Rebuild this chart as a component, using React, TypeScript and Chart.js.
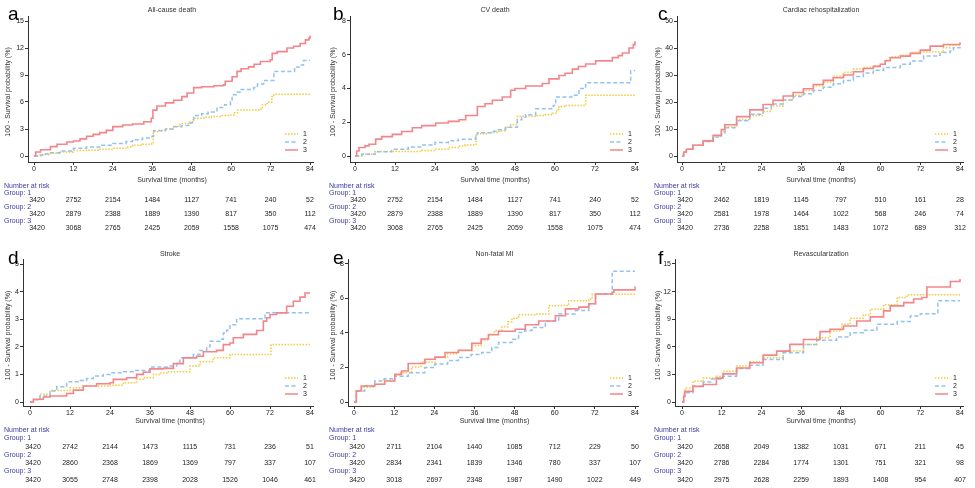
import React, { useEffect, useRef } from "react";
import { Chart, registerables } from "chart.js";
Chart.register(...registerables);

const FONT = '"Liberation Sans", Arial, sans-serif';
const months = [0, 12, 24, 36, 48, 60, 72, 84];
const groupLabels = ["1", "2", "3"];
const groupColors = ["#F5CA3A", "#94C2EE", "#F2868A"];
const groupDashes: number[][] = [[1.5, 1.5], [4, 2.5], []];
const xAxisTitle = "Survival time (months)";
const yAxisTitle = "100 - Survival probability (%)";
const riskTitle = "Number at risk";

// ---------- a: All-cause death ----------
const aTitle = "All-cause death";
const aYTicks = [0, 3, 6, 9, 12, 15];
const aT1 = [0, 2, 5, 8, 12, 16, 20, 24, 28, 30, 33, 35.8, 36.3, 38, 40, 42.5, 44.5, 47.5, 48.5, 52, 54, 57, 59.8, 61, 62, 66, 68.5, 69.5, 71, 72.4, 73, 84];
const aV1 = [0, 0.15, 0.3, 0.45, 0.6, 0.65, 0.75, 0.85, 1.0, 1.2, 1.3, 1.4, 2.7, 2.85, 3.0, 3.3, 3.6, 3.8, 4.2, 4.3, 4.4, 4.5, 4.55, 4.8, 5.1, 5.1, 5.2, 5.7, 6.0, 6.6, 6.85, 6.85];
const aT2 = [0, 1, 3, 5, 8, 12, 16, 20, 24, 28, 30, 33, 35.9, 36.4, 40, 42.5, 45, 47.6, 48.6, 51, 53, 55.7, 58, 59.8, 60.3, 61.5, 62.8, 66.9, 68, 69.9, 72.6, 73, 79, 79.3, 81, 82, 84];
const aV2 = [0, 0.1, 0.25, 0.37, 0.55, 0.85, 1.0, 1.2, 1.4, 1.6, 1.8, 2.0, 2.2, 2.8, 3.0, 3.25, 3.4, 3.7, 4.5, 4.7, 4.9, 5.4, 5.7, 6.0, 6.8, 7.1, 7.4, 7.6, 8.0, 8.4, 8.4, 9.4, 9.4, 9.9, 10.1, 10.6, 10.6];
const aT3 = [0, 0.5, 2, 5, 7, 10, 12, 14, 16, 18, 20, 22, 24, 27, 30, 33.4, 35.7, 36.2, 37.4, 40, 42.5, 45, 46.6, 48.6, 51, 54.7, 57.7, 58.2, 60.3, 61.8, 63, 65.3, 67, 68.9, 71.9, 72.5, 74, 77, 79, 81, 82.6, 83.7, 84];
const aV3 = [0, 0.45, 0.7, 1.04, 1.3, 1.55, 1.67, 1.9, 2.2, 2.4, 2.6, 2.85, 3.26, 3.45, 3.55, 3.8, 4.2, 5.1, 5.55, 5.9, 6.2, 6.6, 7.0, 7.6, 7.7, 7.8, 7.9, 8.3, 8.8, 9.4, 9.7, 9.9, 10.2, 10.5, 10.7, 11.4, 11.6, 12.0, 12.2, 12.5, 12.9, 13.1, 13.4];
const aRisk1 = [3420, 2752, 2154, 1484, 1127, 741, 240, 52];
const aRisk2 = [3420, 2879, 2388, 1889, 1390, 817, 350, 112];
const aRisk3 = [3420, 3068, 2765, 2425, 2059, 1558, 1075, 474];

// ---------- b: CV death ----------
const bTitle = "CV death";
const bYTicks = [0, 2, 4, 6, 8];
const bT1 = [0, 2, 6, 18, 20, 24, 28, 31, 33, 35.9, 36.3, 40, 43.2, 45, 46.7, 48.7, 50, 54.2, 57, 59.2, 60.5, 61.2, 63, 68.2, 69.2, 84];
const bV1 = [0, 0.12, 0.27, 0.27, 0.33, 0.4, 0.5, 0.6, 0.65, 0.7, 1.32, 1.4, 1.5, 1.7, 1.86, 2.35, 2.35, 2.4, 2.45, 2.54, 2.75, 2.93, 3.0, 3.0, 3.6, 3.6];
const bT2 = [0, 2, 6, 11, 16, 20, 24, 28, 31, 36.2, 36.7, 41, 43, 45.2, 48.2, 48.7, 50, 51.2, 54.2, 57, 59.5, 60.2, 65, 67.2, 69.2, 82.2, 82.7, 84];
const bV2 = [0, 0.1, 0.25, 0.4, 0.54, 0.65, 0.8, 0.9, 1.0, 1.12, 1.38, 1.47, 1.55, 1.7, 1.7, 2.15, 2.3, 2.44, 2.8, 2.8, 3.0, 3.5, 3.6, 4.0, 4.34, 4.34, 5.06, 5.06];
const bT3 = [0, 0.5, 1.2, 3, 4.2, 6.2, 8, 11.2, 14, 17.2, 20, 24.2, 28, 31.2, 33.2, 35.7, 36.7, 39, 41.2, 44.2, 46.7, 48, 51.2, 56.2, 58.2, 61.2, 63, 65.2, 67, 69.2, 72.2, 77.2, 79, 80.2, 82.2, 83.5, 84];
const bV3 = [0, 0.3, 0.5, 0.6, 0.7, 1.0, 1.15, 1.28, 1.45, 1.67, 1.8, 1.96, 2.05, 2.15, 2.4, 2.4, 2.93, 3.1, 3.3, 3.5, 3.9, 4.0, 4.15, 4.3, 4.57, 4.77, 4.9, 5.15, 5.3, 5.45, 5.64, 5.83, 5.95, 6.1, 6.4, 6.6, 6.8];
const bRisk1 = [3420, 2752, 2154, 1484, 1127, 741, 240, 52];
const bRisk2 = [3420, 2879, 2388, 1889, 1390, 817, 350, 112];
const bRisk3 = [3420, 3068, 2765, 2425, 2059, 1558, 1075, 474];

// ---------- c: Cardiac rehospitalization ----------
const cTitle = "Cardiac rehospitalization";
const cYTicks = [0, 10, 20, 30, 40, 50];
const cT1 = [0, 0.5, 1.3, 3.3, 6.4, 9.4, 11.9, 13, 16.5, 20.5, 24.5, 27, 30.6, 33.6, 36.7, 39.7, 42.7, 45.7, 48.8, 51.8, 54.8, 57.8, 59.9, 61.4, 62.9, 66, 69, 72, 77.1, 79, 81, 84];
const cV1 = [0, 1.5, 2.5, 4.0, 5.4, 7.3, 9.2, 10.8, 13.4, 15.0, 16.5, 18.5, 20.7, 22.5, 24.3, 26.0, 27.4, 29.5, 31.0, 32.2, 32.8, 33.3, 34.0, 35.5, 36.8, 37.3, 38.3, 38.5, 38.5, 40.1, 41.0, 41.6];
const cT2 = [0, 0.5, 1.3, 3.3, 6.4, 9.4, 11.9, 13, 16.5, 20.5, 24.5, 27, 30.6, 33.6, 36.7, 39.7, 42.7, 45.7, 48.8, 51.8, 54.8, 57.8, 60.9, 62.9, 66, 69, 72.5, 73, 77.1, 78, 81, 82, 84];
const cV2 = [0, 1.5, 2.5, 4.0, 5.4, 7.0, 8.6, 10.5, 13.1, 15.5, 17.7, 19.3, 20.7, 22.0, 23.1, 24.3, 25.5, 26.8, 28.0, 29.4, 30.7, 31.8, 32.8, 32.8, 34.0, 35.2, 36.0, 37.0, 37.3, 38.3, 38.9, 40.1, 40.4];
const cT3 = [0, 0.5, 1.3, 3.3, 6.4, 9.4, 11.9, 12.9, 16.5, 20.5, 24.5, 27.5, 30.6, 33.6, 36.7, 39.7, 42.7, 45.7, 48.8, 51.8, 54.8, 57.8, 59.9, 61.4, 62.9, 66, 69, 72, 75, 79, 84];
const cV3 = [0, 1.5, 2.5, 4.0, 5.6, 7.7, 9.8, 11.6, 14.6, 17.1, 19.1, 20.6, 22.2, 23.5, 24.9, 26.5, 28.0, 29.0, 30.0, 31.2, 32.4, 33.2, 34.0, 35.3, 36.4, 37.0, 38.0, 39.2, 40.7, 41.3, 42.1];
const cRisk1 = [3420, 2462, 1819, 1145, 797, 510, 161, 28];
const cRisk2 = [3420, 2581, 1978, 1464, 1022, 568, 246, 74];
const cRisk3 = [3420, 2736, 2258, 1851, 1483, 1072, 689, 312];

// ---------- d: Stroke ----------
const dTitle = "Stroke";
const dYTicks = [0, 1, 2, 3, 4, 5];
const dT1 = [0, 1, 3, 6, 11.5, 12, 16, 24, 28, 32, 34, 37, 39, 41, 47, 48, 51, 55, 60, 72, 72.3, 84];
const dV1 = [0, 0.08, 0.28, 0.42, 0.42, 0.52, 0.58, 0.61, 0.7, 0.82, 0.88, 1.0, 1.05, 1.1, 1.1, 1.3, 1.46, 1.6, 1.72, 1.72, 2.08, 2.08];
const dT2 = [0, 1, 3, 6, 8, 11, 15, 17, 19, 22, 24, 28, 31, 36, 42, 44, 45, 49, 51, 53, 54, 57, 58, 59, 60, 62, 70, 70.5, 84];
const dV2 = [0, 0.08, 0.22, 0.4, 0.55, 0.73, 0.78, 0.85, 0.94, 1.0, 1.06, 1.1, 1.14, 1.27, 1.3, 1.45, 1.6, 1.72, 1.87, 2.0, 2.2, 2.27, 2.5, 2.6, 2.8, 3.02, 3.02, 3.23, 3.23];
const dT3 = [0, 1, 4, 6, 11, 13, 16, 20, 24, 25, 29, 32, 34, 36, 40, 43, 46, 50, 52, 56, 58, 60, 61, 64, 68, 70, 71, 72, 74, 77, 79, 81, 82.5, 84];
const dV3 = [0, 0.1, 0.18, 0.22, 0.31, 0.43, 0.58, 0.66, 0.7, 0.82, 0.88, 1.0, 1.08, 1.2, 1.22, 1.39, 1.6, 1.66, 1.82, 1.87, 2.08, 2.14, 2.33, 2.45, 2.59, 2.93, 3.05, 3.17, 3.23, 3.47, 3.65, 3.8, 3.95, 3.95];
const dRisk1 = [3420, 2742, 2144, 1473, 1115, 731, 236, 51];
const dRisk2 = [3420, 2860, 2368, 1869, 1369, 797, 337, 107];
const dRisk3 = [3420, 3055, 2748, 2398, 2028, 1526, 1046, 461];

// ---------- e: Non-fatal MI ----------
const eTitle = "Non-fatal MI";
const eYTicks = [0, 2, 4, 6, 8];
const eT1 = [0, 0.7, 2, 6.2, 9, 12.2, 14, 17.2, 20, 24.2, 28, 31.2, 35.2, 38, 40.2, 42, 44.2, 46, 47.2, 49.2, 54, 57.2, 58.2, 62, 64.2, 70.2, 71.2, 84];
const eV1 = [0, 0.64, 0.85, 1.03, 1.25, 1.57, 1.7, 2.03, 2.3, 2.58, 2.8, 2.97, 3.26, 3.6, 3.93, 4.15, 4.36, 4.65, 4.86, 5.06, 5.1, 5.1, 5.58, 5.6, 5.87, 5.97, 6.24, 6.24];
const eT2 = [0, 0.7, 3.2, 6.2, 9, 12.2, 16.2, 21.2, 24.2, 28, 31.2, 35, 38.2, 41.2, 43.2, 47.2, 49.2, 51, 53.2, 57.2, 61.2, 66.2, 70.2, 72.2, 76.7, 77.2, 84];
const eV2 = [0, 0.64, 0.93, 1.22, 1.35, 1.5, 1.7, 2.0, 2.2, 2.4, 2.58, 2.75, 2.87, 3.16, 3.45, 3.64, 4.03, 4.15, 4.32, 4.7, 5.1, 5.3, 5.7, 6.26, 6.26, 7.58, 7.58];
const eT3 = [0, 0.7, 2.2, 6.2, 9.2, 12.2, 14.2, 16.2, 21.2, 24.2, 27.2, 31.2, 35.2, 38, 40.2, 43.2, 48.2, 51.2, 55.2, 60.2, 63.2, 67.2, 70.2, 72.2, 77.2, 77.7, 83.7, 84];
const eV3 = [0, 0.64, 0.93, 1.03, 1.22, 1.6, 1.8, 2.23, 2.48, 2.6, 2.87, 3.0, 3.4, 3.65, 3.9, 4.1, 4.22, 4.48, 4.7, 5.0, 5.4, 5.5, 5.7, 6.26, 6.36, 6.5, 6.5, 6.7];
const eRisk1 = [3420, 2711, 2104, 1440, 1085, 712, 229, 50];
const eRisk2 = [3420, 2834, 2341, 1839, 1346, 780, 337, 107];
const eRisk3 = [3420, 3018, 2697, 2348, 1987, 1490, 1022, 449];

// ---------- f: Revascularization ----------
const fTitle = "Revascularization";
const fYTicks = [0, 3, 6, 9, 12, 15];
const fT1 = [0, 0.5, 1, 3.3, 6.4, 10.4, 12.4, 16.5, 20.5, 24.5, 30.6, 36.7, 40.7, 44.7, 48.3, 50.8, 54.8, 56.9, 60.9, 65, 68, 84];
const fV1 = [0, 0.8, 1.53, 2.26, 2.62, 2.8, 3.35, 3.9, 4.37, 4.8, 5.53, 6.26, 6.99, 7.72, 8.45, 9.1, 9.46, 10.08, 10.56, 11.36, 11.65, 11.65];
const fT2 = [0, 0.5, 1, 3.3, 6.4, 9, 12.4, 16.5, 20.5, 24.5, 30.6, 36.7, 40.7, 46.7, 50.8, 54.8, 58.9, 65, 69, 72, 77.1, 77.3, 84];
const fV2 = [0, 0.6, 1.0, 1.7, 2.18, 2.5, 2.8, 3.64, 4.0, 4.62, 5.35, 6.26, 6.7, 7.06, 7.54, 7.8, 8.45, 8.74, 9.36, 9.6, 9.6, 11.0, 11.0];
const fT3 = [0, 0.5, 0.8, 3.3, 6.4, 10.4, 12.4, 16.5, 20.5, 24.5, 28.6, 32.6, 36.7, 41.7, 44.7, 48.8, 52.8, 56.9, 60.9, 62.9, 67, 70, 72.5, 74, 79, 81.1, 84];
const fV3 = [0, 0.6, 1.16, 1.7, 1.9, 2.6, 3.06, 3.7, 4.26, 5.1, 5.53, 6.26, 6.8, 7.65, 7.9, 8.26, 8.8, 9.25, 9.9, 10.45, 10.8, 11.2, 11.36, 12.5, 12.5, 13.1, 13.36];
const fRisk1 = [3420, 2658, 2049, 1382, 1031, 671, 211, 45];
const fRisk2 = [3420, 2786, 2284, 1774, 1301, 751, 321, 98];
const fRisk3 = [3420, 2975, 2628, 2259, 1893, 1408, 954, 407];

type PanelDef = {
  letter: string;
  title: string;
  yTicks: number[];
  series: [number[], number[]][];
  risk: number[][];
};

const panels: PanelDef[] = [
  { letter: "a", title: aTitle, yTicks: aYTicks, series: [[aT1, aV1], [aT2, aV2], [aT3, aV3]], risk: [aRisk1, aRisk2, aRisk3] },
  { letter: "b", title: bTitle, yTicks: bYTicks, series: [[bT1, bV1], [bT2, bV2], [bT3, bV3]], risk: [bRisk1, bRisk2, bRisk3] },
  { letter: "c", title: cTitle, yTicks: cYTicks, series: [[cT1, cV1], [cT2, cV2], [cT3, cV3]], risk: [cRisk1, cRisk2, cRisk3] },
  { letter: "d", title: dTitle, yTicks: dYTicks, series: [[dT1, dV1], [dT2, dV2], [dT3, dV3]], risk: [dRisk1, dRisk2, dRisk3] },
  { letter: "e", title: eTitle, yTicks: eYTicks, series: [[eT1, eV1], [eT2, eV2], [eT3, eV3]], risk: [eRisk1, eRisk2, eRisk3] },
  { letter: "f", title: fTitle, yTicks: fYTicks, series: [[fT1, fV1], [fT2, fV2], [fT3, fV3]], risk: [fRisk1, fRisk2, fRisk3] },
];

// layout (style only)
const PW = 325;
const PH = 244;
type Lay = { x: number; y: number; axisX: number; xOff: number; top: number; bottom: number; yOff: number; axisTitleY: number; tableY: number[] };
const topTable = [186, 193, 200, 207, 214, 221, 228];
const botTable = [186, 194, 203, 211, 219, 227, 236];
const layouts: Lay[] = [
  { x: 0, y: 0, axisX: 28, xOff: 6, top: 16, bottom: 162, yOff: 6, axisTitleY: 180, tableY: topTable },
  { x: 325, y: 0, axisX: 25, xOff: 5, top: 16, bottom: 162, yOff: 6, axisTitleY: 180, tableY: topTable },
  { x: 650, y: 0, axisX: 27, xOff: 5, top: 16, bottom: 162, yOff: 6, axisTitleY: 180, tableY: topTable },
  { x: 0, y: 244, axisX: 23, xOff: 7, top: 15, bottom: 162, yOff: 4, axisTitleY: 177, tableY: botTable },
  { x: 325, y: 244, axisX: 23, xOff: 6, top: 15, bottom: 162, yOff: 4, axisTitleY: 177, tableY: botTable },
  { x: 650, y: 244, axisX: 25, xOff: 7, top: 15, bottom: 162, yOff: 4, axisTitleY: 177, tableY: botTable },
];

const decorPlugin = {
  id: "kmDecor",
  afterDraw(chart: any, _args: any, opts: any) {
    const def: PanelDef = opts.def;
    const lay: Lay = opts.lay;
    const ctx: CanvasRenderingContext2D = chart.ctx;
    const area = chart.chartArea;
    const xs = chart.scales.x;
    const x0 = xs.getPixelForValue(0);
    const x84 = xs.getPixelForValue(84);
    ctx.save();
    // panel letter
    ctx.fillStyle = "#000";
    ctx.font = `19px ${FONT}`;
    ctx.textAlign = "left";
    ctx.textBaseline = "alphabetic";
    ctx.fillText(def.letter, 8, 20);
    // title
    ctx.fillStyle = "#333";
    ctx.font = `7px ${FONT}`;
    ctx.textAlign = "center";
    ctx.textBaseline = "middle";
    ctx.fillText(def.title, (x0 + x84) / 2, 10);
    // y-axis title
    ctx.save();
    ctx.translate(8, (area.top + area.bottom) / 2 + 3);
    ctx.rotate(-Math.PI / 2);
    ctx.fillText(yAxisTitle, 0, 0);
    ctx.restore();
    // legend
    for (let i = 0; i < 3; i++) {
      const yy = area.bottom - 28 + 8 * i;
      ctx.beginPath();
      ctx.strokeStyle = groupColors[i];
      ctx.lineWidth = 1.5;
      ctx.setLineDash(groupDashes[i]);
      ctx.moveTo(area.right - 28, yy);
      ctx.lineTo(area.right - 15, yy);
      ctx.stroke();
      ctx.setLineDash([]);
      ctx.fillStyle = "#222";
      ctx.textAlign = "left";
      ctx.fillText(groupLabels[i], area.right - 10, yy);
    }
    // x-axis title
    ctx.fillStyle = "#333";
    ctx.textAlign = "center";
    ctx.fillText(xAxisTitle, (x0 + x84) / 2, lay.axisTitleY);
    // risk table
    const navy = "#3a3aa0";
    ctx.textAlign = "left";
    ctx.fillStyle = navy;
    ctx.fillText(riskTitle, 4, lay.tableY[0]);
    for (let g = 0; g < 3; g++) {
      ctx.fillStyle = navy;
      ctx.textAlign = "left";
      ctx.fillText(`Group: ${groupLabels[g]}`, 4, lay.tableY[1 + 2 * g]);
      ctx.fillStyle = "#222";
      ctx.textAlign = "center";
      def.risk[g].forEach((n, i) => {
        const px = xs.getPixelForValue(months[i]) + (i === 0 ? 3 : 0);
        ctx.fillText(String(n), px, lay.tableY[2 + 2 * g]);
      });
    }
    ctx.restore();
  },
};

function KMPanel({ def, lay }: { def: PanelDef; lay: Lay }) {
  const ref = useRef<HTMLCanvasElement>(null);
  useEffect(() => {
    const canvas = ref.current!;
    const right = 313;
    const yMax = def.yTicks[def.yTicks.length - 1];
    // offset axes: data range starts a few pixels inside the axis lines
    const kx = (310 - (lay.axisX + lay.xOff)) / 84;
    const xMin = -lay.xOff / kx;
    const xMax = 84 + 3 / kx;
    const ky = (lay.bottom - lay.yOff - (lay.top + 5)) / yMax;
    const yMin = -lay.yOff / ky;
    const yMaxAx = yMax + 5 / ky;
    const tickFont = { size: 7, family: FONT };
    const chart = new Chart(canvas, {
      type: "line",
      data: {
        datasets: def.series.map(([ts, vs], g) => ({
          label: groupLabels[g],
          data: ts.map((t, i) => ({ x: t, y: vs[i] })),
          borderColor: groupColors[g],
          borderWidth: g === 2 ? 1.6 : 1.5,
          borderDash: groupDashes[g],
          pointRadius: 0,
          stepped: "before" as const,
          fill: false,
          tension: 0,
          order: 2 - g,
        })),
      },
      options: {
        animation: false,
        responsive: false,
        maintainAspectRatio: false,
        events: [],
        layout: { padding: { left: 0, right: PW - right, top: lay.top, bottom: 0 } },
        plugins: {
          legend: { display: false },
          tooltip: { enabled: false },
          title: { display: false },
          kmDecor: { def, lay },
        } as any,
        scales: {
          x: {
            type: "linear",
            min: xMin,
            max: xMax,
            afterBuildTicks: (s: any) => {
              s.ticks = months.map((v) => ({ value: v }));
            },
            afterFit: (s: any) => {
              s.height = PH - lay.bottom;
            },
            ticks: { autoSkip: false, maxRotation: 0, font: tickFont, color: "#222", padding: 0 },
            grid: { drawOnChartArea: false, drawTicks: true, tickLength: 3, color: "#333", lineWidth: 1 },
            border: { display: true, color: "#333", width: 1 },
          },
          y: {
            type: "linear",
            min: yMin,
            max: yMaxAx,
            afterBuildTicks: (s: any) => {
              s.ticks = def.yTicks.map((v) => ({ value: v }));
            },
            afterFit: (s: any) => {
              s.width = lay.axisX;
            },
            ticks: { font: tickFont, color: "#222", padding: 1 },
            grid: { drawOnChartArea: false, drawTicks: true, tickLength: 3, color: "#333", lineWidth: 1 },
            border: { display: true, color: "#333", width: 1 },
          },
        },
      },
      plugins: [decorPlugin],
    } as any);
    return () => chart.destroy();
  }, [def, lay]);
  return (
    <canvas
      ref={ref}
      width={PW}
      height={PH}
      style={{ position: "absolute", left: lay.x, top: lay.y, width: PW, height: PH }}
    />
  );
}

export default function App() {
  return (
    <div style={{ position: "absolute", left: 0, top: 0, width: 975, height: 488, background: "#fff", overflow: "hidden" }}>
      {panels.map((p, i) => (
        <KMPanel key={p.letter} def={p} lay={layouts[i]} />
      ))}
    </div>
  );
}
